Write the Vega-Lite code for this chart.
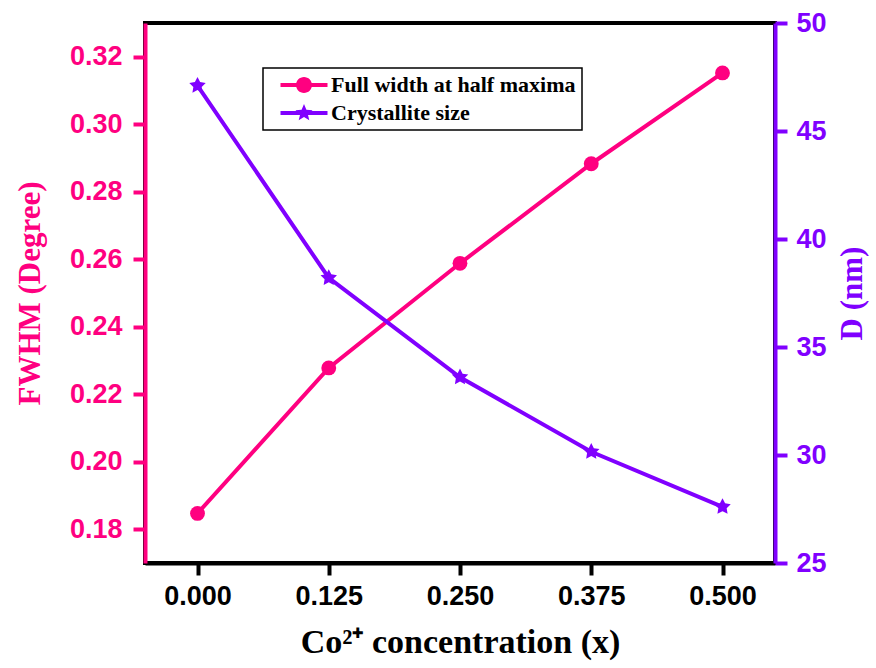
{
  "$schema": "https://vega.github.io/schema/vega-lite/v6.json",
  "width": 630,
  "height": 540,
  "autosize": {"type": "none"},
  "padding": {"left": 145, "top": 23, "right": 101, "bottom": 105},
  "background": "white",
  "config": {
    "view": {"stroke": "black", "strokeWidth": 4},
    "axis": {"grid": false, "labelFont": "Liberation Sans", "labelFontWeight": "bold", "labelFontSize": 27, "titleFont": "Liberation Serif", "titleFontWeight": "bold", "titleFontSize": 31, "domainWidth": 4, "tickWidth": 4, "tickSize": 12}
  },
  "data": {
    "values": [
      {"x": 0.0, "FWHM": 0.1847, "D": 47.1},
      {"x": 0.125, "FWHM": 0.2278, "D": 38.2},
      {"x": 0.25, "FWHM": 0.2588, "D": 33.6},
      {"x": 0.375, "FWHM": 0.2883, "D": 30.15},
      {"x": 0.5, "FWHM": 0.3152, "D": 27.6}
    ]
  },
  "layer": [
    {
      "mark": {"type": "line", "strokeWidth": 4, "point": {"filled": true, "opacity": 1, "shape": "circle", "size": 220}},
      "encoding": {
        "x": {
          "field": "x", "type": "quantitative",
          "scale": {"domain": [-0.05, 0.55], "nice": false, "zero": false},
          "axis": {"orient": "bottom", "values": [0, 0.125, 0.25, 0.375, 0.5], "format": ".3f", "labelColor": "black", "domainColor": "black", "tickColor": "black", "labelPadding": 8, "titleFontSize": 34, "titlePadding": 16, "title": "Co²⁺ concentration (x)", "titleColor": "black"}
        },
        "y": {
          "field": "FWHM", "type": "quantitative",
          "scale": {"domain": [0.17, 0.33], "nice": false, "zero": false},
          "axis": {"orient": "left", "values": [0.18, 0.2, 0.22, 0.24, 0.26, 0.28, 0.3, 0.32], "format": ".2f", "labelColor": "#FF0080", "domainColor": "#FF0080", "tickColor": "#FF0080", "titleColor": "#FF0080", "labelPadding": 11, "titlePadding": 23, "title": "FWHM (Degree)"}
        },
        "color": {
          "datum": "Full width at half maxima",
          "type": "nominal",
          "scale": {"domain": ["Full width at half maxima", "Crystallite size"], "range": ["#FF0080", "#8000FF"]},
          "legend": {
            "orient": "none", "legendX": 118, "legendY": 45, "title": null,
            "fillColor": "white", "strokeColor": "black", "padding": 6,
            "labelFont": "Liberation Serif", "labelFontWeight": "bold", "labelFontSize": 22, "labelColor": "black", "labelLimit": 400,
            "symbolSize": 100, "symbolStrokeWidth": 0, "symbolOffset": 24, "labelOffset": 16, "rowPadding": 6,
            "encode": {
              "legend": {"update": {"strokeWidth": {"value": 1.5}}},
              "symbols": {
                "update": {
                  "shape": {"signal": "datum.value === 'Crystallite size' ? 'M-4.7,-0.4H4.7V0.4H-4.7Z M0,-1.8L0.477,-0.655L1.712,-0.556L0.77,0.25L1.058,1.456L0,0.81L-1.058,1.456L-0.77,0.25L-1.712,-0.556L-0.477,-0.655Z' : 'M-4.7,-0.4H4.7V0.4H-4.7Z M-1.6,0A1.6,1.6 0 1,1 1.6,0A1.6,1.6 0 1,1 -1.6,0Z'"},
                  "fill": {"signal": "datum.value === 'Crystallite size' ? '#8000FF' : '#FF0080'"},
                  "stroke": {"value": "transparent"},
                  "strokeWidth": {"value": 0},
                  "opacity": {"value": 1}
                }
              }
            }
          }
        }
      }
    },
    {
      "mark": {"type": "line", "strokeWidth": 4, "point": {"filled": true, "opacity": 1, "shape": "M0,-1L0.3,-0.41L0.951,-0.309L0.48,0.156L0.588,0.809L0,0.5L-0.588,0.809L-0.48,0.156L-0.951,-0.309L-0.3,-0.41Z", "size": 300}},
      "encoding": {
        "x": {"field": "x", "type": "quantitative"},
        "y": {
          "field": "D", "type": "quantitative",
          "scale": {"domain": [25, 50], "nice": false, "zero": false},
          "axis": {"orient": "right", "values": [25, 30, 35, 40, 45, 50], "format": "d", "labelColor": "#8000FF", "domainColor": "#8000FF", "tickColor": "#8000FF", "titleColor": "#8000FF", "labelPadding": 9, "titlePadding": 42, "titleAngle": 270, "title": "D (nm)"}
        },
        "color": {"datum": "Crystallite size", "type": "nominal"}
      }
    }
  ],
  "resolve": {"scale": {"y": "independent"}}
}
